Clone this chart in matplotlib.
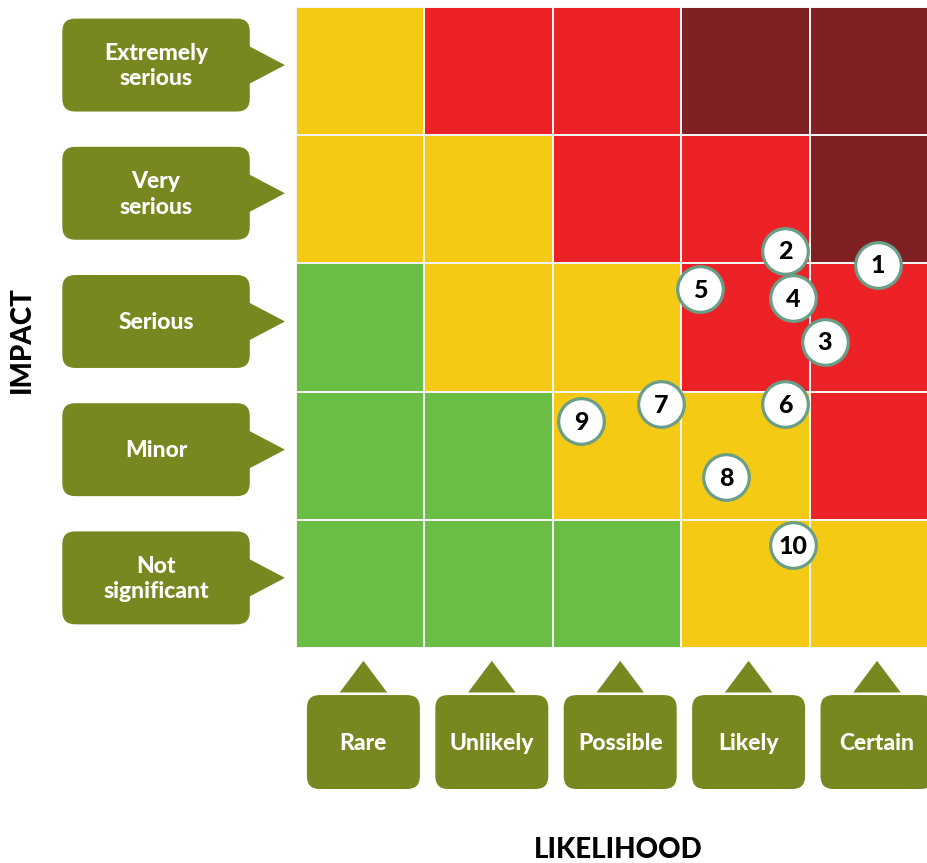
import matplotlib
matplotlib.use("Agg")
import matplotlib.pyplot as plt
import numpy as np
from matplotlib import font_manager
from matplotlib.colors import ListedColormap, BoundaryNorm
from matplotlib.patches import FancyBboxPatch, Polygon

# ---- data ----
likelihood = ["Rare", "Unlikely", "Possible", "Likely", "Certain"]
impact = ["Not\nsignificant", "Minor", "Serious", "Very\nserious", "Extremely\nserious"]  # bottom -> top
# risk level per cell (rows bottom->top, cols Rare->Certain): 0 green, 1 yellow, 2 red, 3 dark red
risk_levels = [
    [0, 0, 0, 1, 1],
    [0, 0, 1, 1, 2],
    [0, 1, 1, 2, 2],
    [1, 1, 2, 2, 3],
    [1, 2, 2, 3, 3],
]
level_colors = ["#6bbd45", "#f5ca14", "#ec2227", "#7f2124"]

risk_ids = ["1", "2", "3", "4", "5", "6", "7", "8", "9", "10"]
risk_x = [4.53, 3.81, 4.12, 3.87, 3.15, 3.81, 2.84, 3.35, 2.22, 3.87]
risk_y = [2.99, 3.10, 2.39, 2.73, 2.80, 1.90, 1.90, 1.33, 1.77, 0.80]

label_green = "#78871f"

# pick a font that really has a bold face installed
FONT = "DejaVu Sans"
for cand in ["Lato", "Roboto", "Noto Sans", "Open Sans", "Liberation Sans"]:
    if any(f.name == cand and (f.weight in ("bold", "heavy", "black") or
                               (isinstance(f.weight, int) and f.weight >= 700))
           for f in font_manager.fontManager.ttflist):
        FONT = cand
        break
WEIGHT = 900

W, H = 928, 863
fig = plt.figure(figsize=(W / 100, H / 100), dpi=100)
fig.patch.set_facecolor("white")

# grid axes: x 296 -> 938 px (clipped at 928), y 7 -> 648 px
x0, x1 = 296, 938
y0, y1 = 648, 7
ax = fig.add_axes([x0 / W, (H - y0) / H, (x1 - x0) / W, (y0 - y1) / H])
cmap = ListedColormap(level_colors)
norm = BoundaryNorm([-0.5, 0.5, 1.5, 2.5, 3.5], cmap.N)
ax.pcolormesh(np.arange(6), np.arange(6), np.array(risk_levels), cmap=cmap, norm=norm,
              edgecolors="#f3f3f3", linewidth=1.3)
ax.set_xlim(0, 5)
ax.set_ylim(0, 5)
ax.set_axis_off()

# risk markers
ax.scatter(risk_x, risk_y, s=1080, facecolor="white", edgecolor="#6a9e86",
           linewidth=2.3, zorder=5, clip_on=False)
for rid, x, y in zip(risk_ids, risk_x, risk_y):
    ax.text(x, y - 0.01, rid, ha="center", va="center", fontsize=18,
            fontweight=WEIGHT, family=FONT, color="black", zorder=6)

# impact labels (left)
bw_l, bw_r = -1.82, -0.36
bh = 0.725
rr = 0.1
for i, lab in enumerate(impact):
    cy = i + 0.5 + 0.047
    box = FancyBboxPatch((bw_l, cy - bh / 2), bw_r - bw_l, bh,
                         boxstyle=f"round,pad=0,rounding_size={rr}",
                         facecolor=label_green, edgecolor="none", clip_on=False)
    ax.add_patch(box)
    tri = Polygon([[bw_r - 0.02, cy + 0.155], [-0.086, cy], [bw_r - 0.02, cy - 0.155]],
                  closed=True, facecolor=label_green, edgecolor="none", clip_on=False)
    ax.add_patch(tri)
    ax.text((bw_l + bw_r) / 2, cy - 0.01, lab, ha="center", va="center",
            fontsize=16.5, fontweight=WEIGHT, family=FONT, color="white",
            linespacing=1.25, zorder=4)

# likelihood labels (bottom)
bw = 0.88
by_top, by_bot = -0.367, -1.10
for j, lab in enumerate(likelihood):
    cx = j + 0.5 + 0.025
    box = FancyBboxPatch((cx - bw / 2, by_bot), bw, by_top - by_bot,
                         boxstyle=f"round,pad=0,rounding_size={rr}",
                         facecolor=label_green, edgecolor="none", clip_on=False)
    ax.add_patch(box)
    tri = Polygon([[cx - 0.185, by_top + 0.02], [cx, -0.10], [cx + 0.185, by_top + 0.02]],
                  closed=True, facecolor=label_green, edgecolor="none", clip_on=False)
    ax.add_patch(tri)
    ax.text(cx, (by_top + by_bot) / 2 - 0.01, lab, ha="center", va="center",
            fontsize=16.5, fontweight=WEIGHT, family=FONT, color="white", zorder=4)

# axis titles
fig.text(22 / W, 1 - 340 / H, "IMPACT", rotation=90, ha="center", va="center",
         fontsize=20, fontweight=WEIGHT, family=FONT, color="black")
fig.text(618 / W, 1 - 850 / H, "LIKELIHOOD", ha="center", va="center",
         fontsize=20, fontweight=WEIGHT, family=FONT, color="black")

fig.savefig("out.png", dpi=100, facecolor="white")
